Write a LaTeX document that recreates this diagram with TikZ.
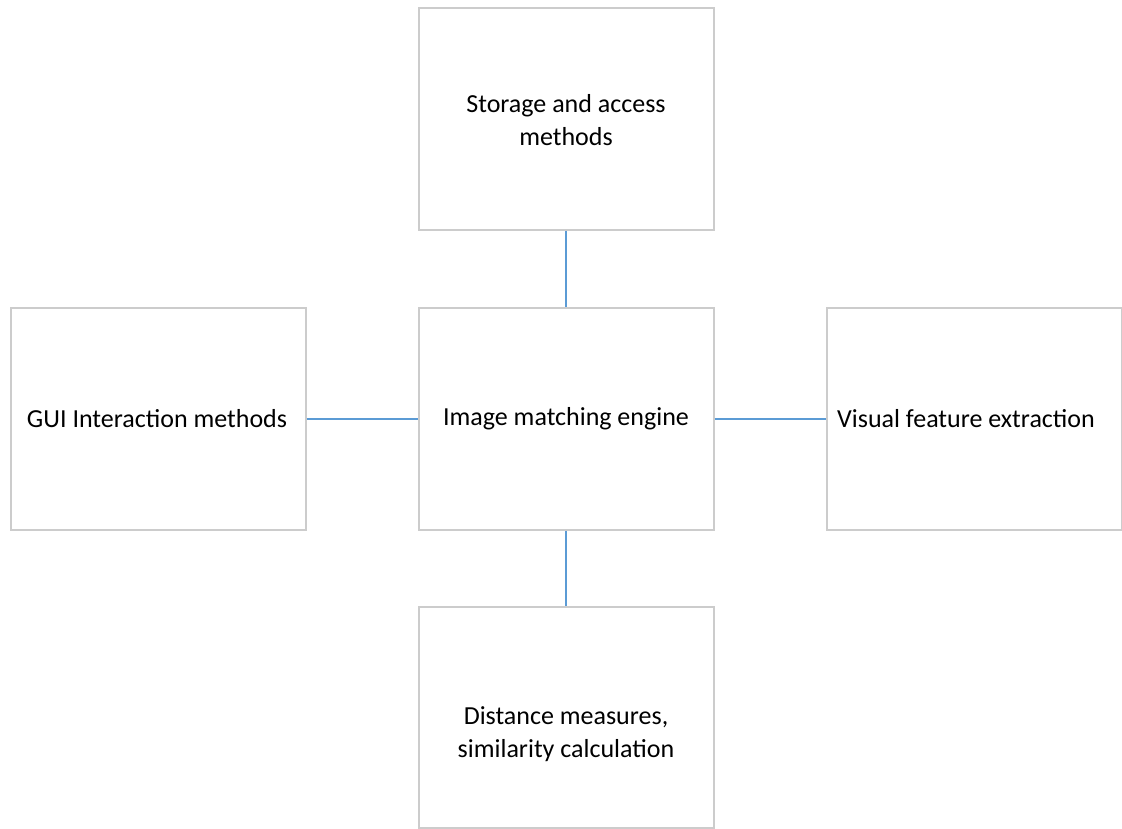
\documentclass[tikz,border=0pt]{standalone}
\usepackage{fontspec}
\setmainfont{Carlito}
\begin{document}
\begin{tikzpicture}[x=1pt,y=-1pt,
  box/.style={draw=black!20,line width=1.6pt,fill=white,minimum width=295pt,minimum height=222pt,inner sep=0pt,anchor=north west},
  lbl/.style={font=\fontsize{26}{33}\selectfont,align=center,text=black},
  link/.style={draw={rgb,255:red,91;green,155;blue,213},line width=1.8pt}]
\useasboundingbox (0,0) rectangle (1122,829);
\node[box] (top) at (418,7) {};
\node[box] (mid) at (418,307) {};
\node[box] (left) at (10,307) {};
\node[box] (right) at (826,307) {};
\node[box,minimum height=221pt] (bot) at (418,606) {};
\node[lbl] (ttop) at (566,120) {Storage and access\\methods};
\node[lbl] (tmid) at (566,419) {Image matching engine};
\node[lbl] (tleft) at (157,419) {GUI Interaction methods};
\node[lbl] (tright) at (966,419) {Visual feature extraction};
\node[lbl] (tbot) at (566,734) {Distance measures,\\similarity calculation};
\draw[link] (top.south) -- (mid.north);
\draw[link] (left.east) -- (mid.west);
\draw[link] (mid.east) -- (right.west);
\draw[link] (mid.south) -- (bot.north);
\end{tikzpicture}
\end{document}
